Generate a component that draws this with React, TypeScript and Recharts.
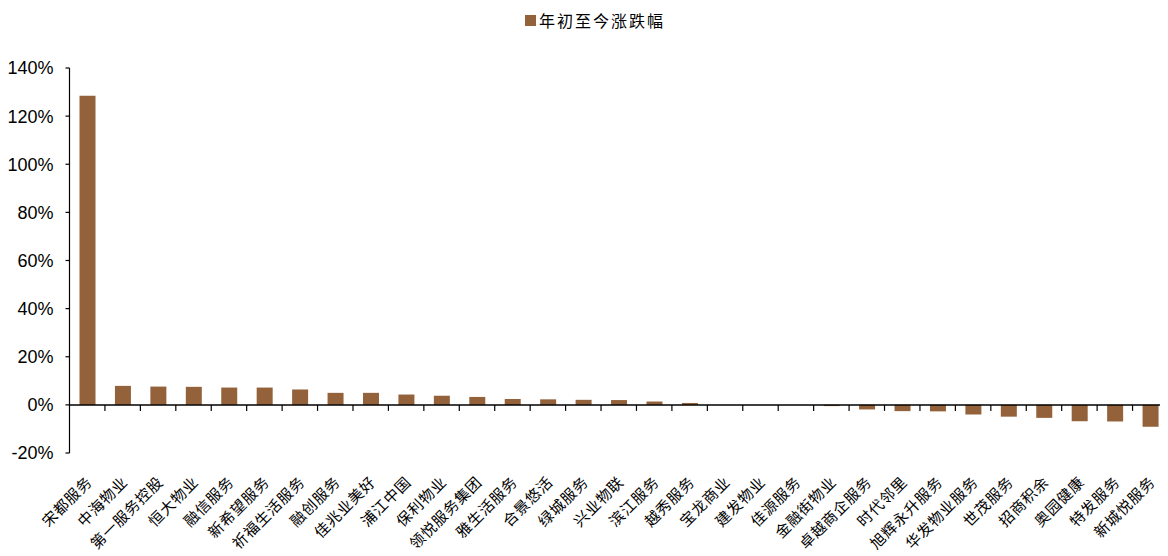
import { Bar, BarChart, ReferenceLine, XAxis, YAxis } from "recharts";

const companies = [
  "宋都服务", "中海物业", "第一服务控股", "恒大物业", "融信服务", "新希望服务", "祈福生活服务",
  "融创服务", "佳兆业美好", "浦江中国", "保利物业", "领悦服务集团", "雅生活服务", "合景悠活",
  "绿城服务", "兴业物联", "滨江服务", "越秀服务", "宝龙商业", "建发物业", "佳源服务",
  "金融街物业", "卓越商企服务", "时代邻里", "旭辉永升服务", "华发物业服务", "世茂服务",
  "招商积余", "奥园健康", "特发服务", "新城悦服务",
];

const ytdChange = [
  128.5, 7.9, 7.6, 7.5, 7.2, 7.2, 6.4, 5.0, 5.0, 4.3, 3.8, 3.3, 2.4, 2.3, 2.1, 2.0, 1.4, 0.8,
  0, 0, 0, -0.5, -1.9, -2.6, -2.7, -4.0, -4.9, -5.4, -6.8, -6.9, -9.1,
];

const yTicks = [-20, 0, 20, 40, 60, 80, 100, 120, 140];

const data = companies.map((name, i) => ({ name, value: ytdChange[i] }));

const W = 1160;
const H = 548;
const LEFT = 61.5;
const TOP = 60;
const PLOT_H = 385;
const BAND = (W - LEFT) / companies.length;
const ZERO_Y = TOP + (PLOT_H * 140) / 160;
const BROWN = "#93623b";

function CategoryTick(props: any) {
  const { x, payload } = props;
  const bx = x + BAND / 2;
  const ax = x + 6;
  const ay = TOP + PLOT_H + 30;
  return (
    <g>
      <line x1={bx} y1={ZERO_Y} x2={bx} y2={ZERO_Y + 6} stroke="#000" strokeWidth={1.2} />
      <text
        x={ax}
        y={ay}
        textAnchor="end"
        transform={`rotate(-45 ${ax} ${ay})`}
        fontSize={15}
        letterSpacing={0.8}
        fontFamily="'Noto Sans CJK SC', sans-serif"
        fill="#000"
      >
        {payload.value}
      </text>
    </g>
  );
}

export default function App() {
  return (
    <div style={{ position: "relative", width: W, height: H }}>
      <div
        style={{
          position: "absolute",
          left: 517,
          top: 0,
          display: "flex",
          alignItems: "center",
          fontFamily: "'Noto Sans CJK SC', sans-serif",
          fontSize: 16,
          letterSpacing: 2,
          color: "#000",
        }}
      >
        <span style={{ width: 11, height: 11, background: BROWN, display: "inline-block", marginRight: 3 }} />
        年初至今涨跌幅
      </div>
      <BarChart
        width={W}
        height={H}
        data={data}
        margin={{ top: TOP, right: 0, bottom: 3, left: 0 }}
        barCategoryGap={0}
      >
        <XAxis
          dataKey="name"
          interval={0}
          height={100}
          axisLine={false}
          tickLine={false}
          tick={<CategoryTick />}
        />
        <YAxis
          width={LEFT}
          domain={[-20, 140]}
          ticks={yTicks}
          tickFormatter={(v: number) => `${v}%`}
          tick={{ fill: "#000", fontSize: 18, fontFamily: "'Liberation Sans', Arial, sans-serif" }}
          tickSize={4}
          tickMargin={12}
          axisLine={{ stroke: "#000", strokeWidth: 1.2 }}
          tickLine={{ stroke: "#000", strokeWidth: 1.2 }}
          allowDataOverflow
        />
        <ReferenceLine y={0} stroke="#000" strokeWidth={1.5} />
        <Bar dataKey="value" fill={BROWN} barSize={16} isAnimationActive={false} />
      </BarChart>
    </div>
  );
}
